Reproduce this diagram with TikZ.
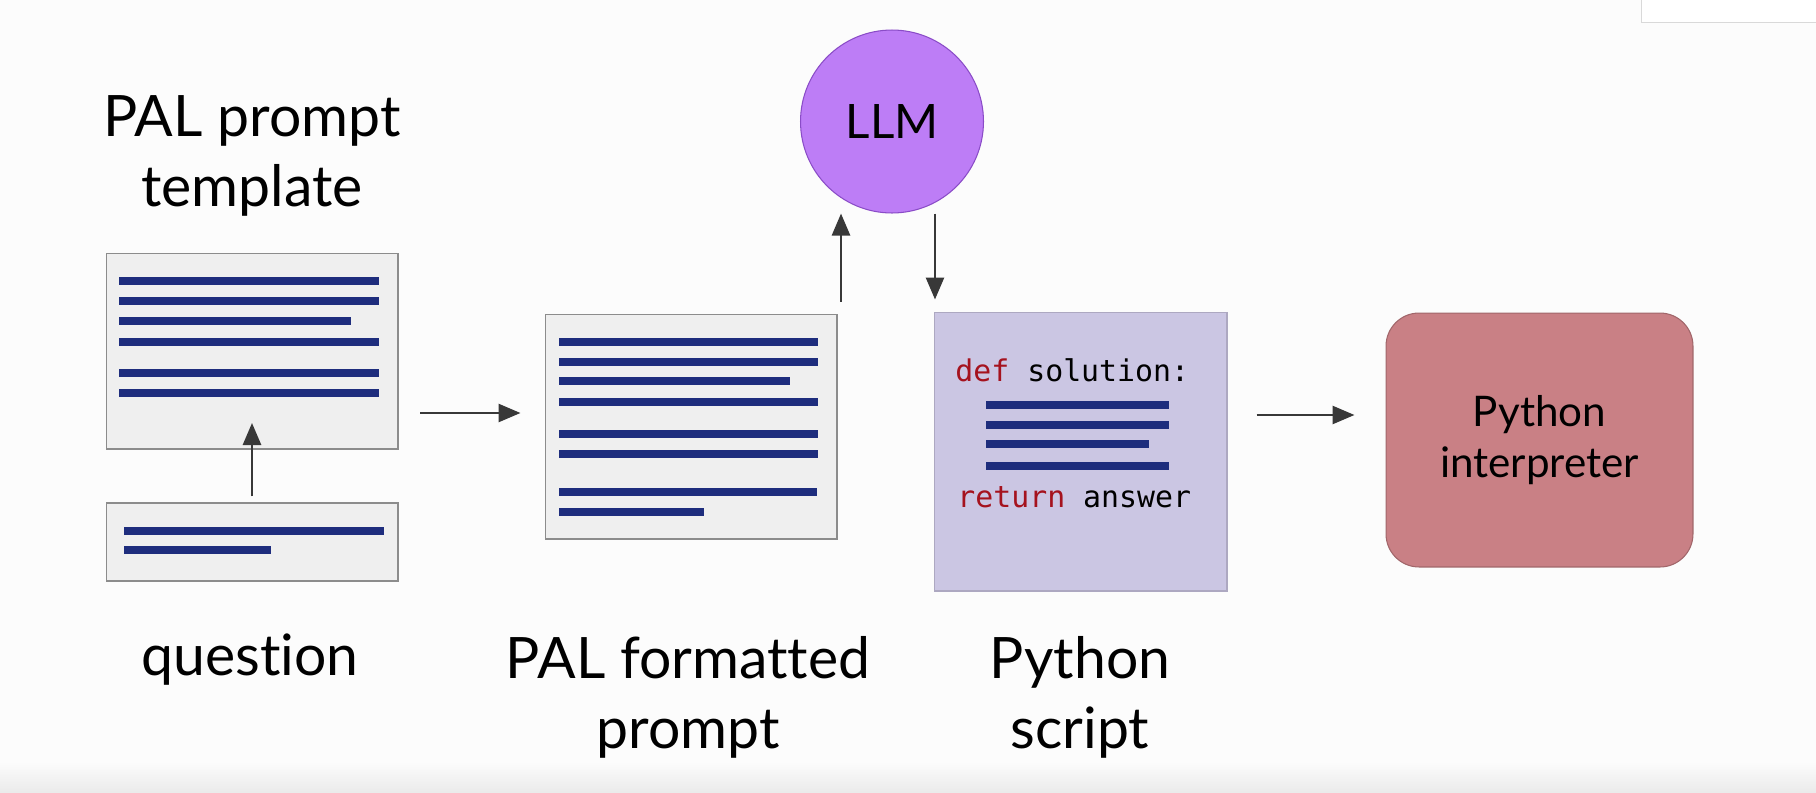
\documentclass[tikz,border=0pt]{standalone}
\usepackage{fontspec}
\setmainfont{Lato}[Ligatures=NoCommon]
\setmonofont{DejaVu Sans Mono}
\usetikzlibrary{arrows.meta}

\definecolor{bg}{HTML}{FCFCFC}
\definecolor{docfill}{HTML}{EFEFEF}
\definecolor{docedge}{HTML}{8C8C8C}
\definecolor{barblue}{HTML}{1E2D7D}
\definecolor{scriptfill}{HTML}{CBC6E3}
\definecolor{llmfill}{HTML}{BD7DF6}
\definecolor{llmedge}{HTML}{8A4CC7}
\definecolor{interpfill}{HTML}{C98085}
\definecolor{keyred}{HTML}{A5121E}
\definecolor{arrowgray}{HTML}{383838}

\tikzset{
  doc/.style={draw=docedge, fill=docfill, line width=0.6pt, inner sep=0pt},
  bar/.style={draw=barblue, line width=5pt},
  arr/.style={draw=arrowgray, line width=1.5pt, -{Triangle[length=0.44cm,width=0.36cm]}},
  lbl/.style={align=center, font=\fontsize{32.5}{40}\selectfont},
  code/.style={anchor=west, inner sep=0pt, font=\ttfamily\fontsize{17}{20}\selectfont},
}

\begin{document}
\begin{tikzpicture}[x=0.02cm, y=-0.02cm]
\useasboundingbox (0,0) rectangle (1816,792);
\fill[bg] (0,0) rectangle (1816,792);
\fill[top color=bg, bottom color=black!8] (0,762) rectangle (1816,792);
\draw[black!15, fill=white] (1641,-5) rectangle (1830,22);

% documents
\node[doc, minimum width=5.84cm, minimum height=3.92cm] (tmpl) at (252,351) {};
\node[doc, minimum width=5.84cm, minimum height=1.56cm] (ques) at (252,542) {};
\node[doc, minimum width=5.84cm, minimum height=4.5cm] (fmt) at (691,426.5) {};
\node[doc, fill=scriptfill, draw=scriptfill!85!black, minimum width=5.86cm, minimum height=5.58cm] (script) at (1080.5,451.5) {};
\node[circle, fill=llmfill, draw=llmedge, line width=0.6pt, minimum size=3.66cm, font=\fontsize{27}{32}\selectfont] (llm) at (892,121.5) {LLM};
\node[fill=interpfill, draw=interpfill!80!black, line width=0.6pt, rounded corners=0.66cm, minimum width=6.14cm, minimum height=5.08cm, align=center, font=\fontsize{24}{29}\selectfont] (interp) at (1539.5,440) {Python\\interpreter};

% text bars
\foreach \y/\e in {281/379, 301/379, 321/351, 342/379, 373/379, 393/379}
  \draw[bar] (119,\y) -- (\e,\y);
\foreach \y/\e in {531/384, 550/271}
  \draw[bar] (124,\y) -- (\e,\y);
\foreach \y/\e in {342/818, 362/818, 381/790, 402/818, 434/818, 454/818, 492/817, 512/704}
  \draw[bar] (559,\y) -- (\e,\y);
\foreach \y/\e in {405/1169, 425/1169, 444/1149, 466/1169}
  \draw[bar] (986,\y) -- (\e,\y);

% code lines
\node[code] (def) at (955,370) {\textcolor{keyred}{def} solution:};
\node[code] (ret) at (957,497) {\textcolor{keyred}{return} answer};

% labels
\node[lbl] (tmpllbl) at (252,156) {PAL prompt\\template};
\node[lbl] (queslbl) at (250,660) {question};
\node[lbl] (fmtlbl) at (688,697) {PAL formatted\\prompt};
\node[lbl] (scriptlbl) at (1080,697) {Python\\script};

% arrows
\coordinate (qtip) at (252,423);
\draw[arr, shorten <=0.12cm] (ques) -- (qtip);
\draw[arr, shorten <=0.44cm, shorten >=0.48cm] (tmpl.east |- 0,413) -- (fmt.west |- 0,413);
\draw[arr, shorten <=0.24cm] (fmt.north -| 841,0) -- (llm.south -| 841,0);
\draw[arr, shorten >=0.24cm] (llm.south -| 935,0) -- (script.north -| 935,0);
\draw[arr, shorten <=0.58cm, shorten >=0.62cm] (script.east |- 0,415) -- (interp.west |- 0,415);
\end{tikzpicture}
\end{document}
